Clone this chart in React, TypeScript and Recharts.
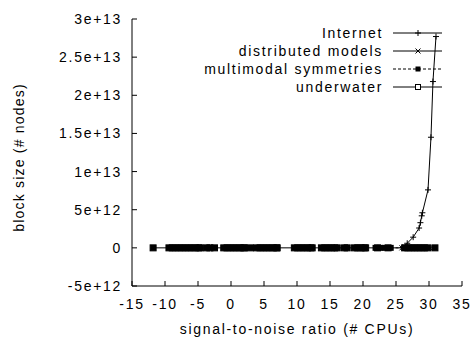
import React from 'react';
import { LineChart, Line, XAxis, YAxis } from 'recharts';

const xTicks = [-15, -10, -5, 0, 5, 10, 15, 20, 25, 30, 35];
const yTicks = [-5e12, 0, 5e12, 1e13, 1.5e13, 2e13, 2.5e13, 3e13];
const yTickLabels = ['-5e+12', '0', '5e+12', '1e+13', '1.5e+13', '2e+13', '2.5e+13', '3e+13'];

const seriesNames = ['Internet', 'distributed models', 'multimodal symmetries', 'underwater'];

const internetX = [26, 26.7, 27.6, 28.5, 28.7, 28.9, 29.0, 29.85, 30.3, 30.6, 31.06];
const internetY = [0.05e12, 0.6e12, 1.4e12, 2.6e12, 3.3e12, 4.2e12, 4.6e12, 7.6e12, 1.45e13, 2.18e13, 2.77e13];

const distributedX = [25.9, 26.4, 26.9, 27.4, 28.2, 28.8, 29.4, 30.1];
const distributedY = [0, 0, 0, 0, 0, 0, 0, 0];

const multimodalX = [21.9, 22.6, 23.4, 24.2, 26.4];
const multimodalY = [0, 0, 0, 0, 0];

const underwaterX = [
  -11.8, -9.4, -8.9, -8.4, -7.9, -7.4, -6.9, -6.4, -5.9, -5.4, -4.9, -4.7,
  -3.7, -3.2, -2.5, -1.1, -0.6, -0.1, 0.4, 0.9, 1.4, 1.9, 2.0, 2.95,
  3.9, 4.4, 4.9, 5.4, 5.9, 6.4, 6.9, 7.0, 9.6, 10.1, 10.6, 11.1, 11.6, 12.1, 12.3,
  13.7, 14.2, 14.7, 15.2, 15.7, 16.1, 17.2, 17.6, 18.7, 19.2, 19.7, 20.2, 20.4,
  22.2, 23.8, 26.3, 26.8, 27.3, 27.8, 28.3, 28.8, 29.3, 29.8, 30.9,
];

const internetData = internetX.map((x, i) => ({ x, y: internetY[i] }));
const distributedData = distributedX.map((x, i) => ({ x, y: distributedY[i] }));
const multimodalData = multimodalX.map((x, i) => ({ x, y: multimodalY[i] }));
const underwaterData = underwaterX.map((x) => ({ x, y: 0 }));

const FONT = '"Liberation Sans", Arial, sans-serif';
const FS = 14;
const LS = 1.7;

const PlusDot = (p: any) => {
  const { cx, cy, key } = p;
  if (cx == null || cy == null) return <g key={key} />;
  return (
    <g key={key}>
      <line x1={cx - 3} y1={cy} x2={cx + 3} y2={cy} stroke="#000" strokeWidth={1} />
      <line x1={cx} y1={cy - 3} x2={cx} y2={cy + 3} stroke="#000" strokeWidth={1} />
    </g>
  );
};

const CrossDot = (p: any) => {
  const { cx, cy, key } = p;
  if (cx == null || cy == null) return <g key={key} />;
  return (
    <g key={key}>
      <line x1={cx - 2.5} y1={cy - 2.5} x2={cx + 2.5} y2={cy + 2.5} stroke="#000" strokeWidth={1} />
      <line x1={cx - 2.5} y1={cy + 2.5} x2={cx + 2.5} y2={cy - 2.5} stroke="#000" strokeWidth={1} />
    </g>
  );
};

const StarDot = (p: any) => {
  const { cx, cy, key } = p;
  if (cx == null || cy == null) return <g key={key} />;
  return <rect key={key} x={cx - 3} y={cy - 3} width={6} height={6} fill="#000" />;
};

const SquareDot = (p: any) => {
  const { cx, cy, key } = p;
  if (cx == null || cy == null) return <g key={key} />;
  return <rect key={key} x={cx - 3} y={cy - 3} width={6} height={6} fill="#000" stroke="#000" strokeWidth={1} />;
};

const BottomTick = (p: any) => {
  const { x, y, payload } = p;
  return (
    <g>
      <line x1={x} y1={y} x2={x} y2={y - 5} stroke="#000" />
      <text x={x} y={y + 23} textAnchor="middle" fontFamily={FONT} fontSize={FS} letterSpacing={LS} fill="#000">
        {payload.value}
      </text>
    </g>
  );
};

const TopTick = (p: any) => {
  const { x, y } = p;
  return <line x1={x} y1={y} x2={x} y2={y + 5} stroke="#000" />;
};

const LeftTick = (p: any) => {
  const { x, y, payload } = p;
  const idx = yTicks.indexOf(payload.value);
  return (
    <g>
      <line x1={x} y1={y} x2={x + 5} y2={y} stroke="#000" />
      <text x={x - 10} y={y + 5} textAnchor="end" fontFamily={FONT} fontSize={FS} letterSpacing={LS} fill="#000">
        {idx >= 0 ? yTickLabels[idx] : ''}
      </text>
    </g>
  );
};

const RightTick = (p: any) => {
  const { x, y } = p;
  return <line x1={x} y1={y} x2={x - 5} y2={y} stroke="#000" />;
};

const legendMarkers = [
  (cx: number, cy: number) => (
    <g>
      <line x1={cx - 3} y1={cy} x2={cx + 3} y2={cy} stroke="#000" />
      <line x1={cx} y1={cy - 3} x2={cx} y2={cy + 3} stroke="#000" />
    </g>
  ),
  (cx: number, cy: number) => (
    <g>
      <line x1={cx - 2.5} y1={cy - 2.5} x2={cx + 2.5} y2={cy + 2.5} stroke="#000" />
      <line x1={cx - 2.5} y1={cy + 2.5} x2={cx + 2.5} y2={cy - 2.5} stroke="#000" />
    </g>
  ),
  (cx: number, cy: number) => <rect x={cx - 2.5} y={cy - 2.5} width={5} height={5} fill="#000" />,
  (cx: number, cy: number) => <rect x={cx - 2.5} y={cy - 2.5} width={5} height={5} fill="#fff" stroke="#000" />,
];

const KeyBox = () => (
  <g>
    {seriesNames.map((name, i) => {
      const cy = 33 + i * 18;
      return (
        <g key={name}>
          <text x={383} y={cy + 5} textAnchor="end" fontFamily={FONT} fontSize={FS} letterSpacing={LS} fill="#000">
            {name}
          </text>
          <line x1={393} y1={cy} x2={442} y2={cy} stroke="#000" strokeDasharray={i === 2 ? '3 2' : undefined} />
          {legendMarkers[i](418, cy)}
        </g>
      );
    })}
  </g>
);

export default function App() {
  return (
    <div style={{ position: 'absolute', left: 0, top: 0, background: '#fff' }}>
      <LineChart width={473} height={339} margin={{ top: 19, right: 11, bottom: 23, left: 12 }}>
        <XAxis
          xAxisId="b"
          type="number"
          dataKey="x"
          domain={[-15, 35]}
          ticks={xTicks}
          allowDataOverflow
          height={30}
          tickSize={0}
          tickMargin={0}
          tickLine={false}
          tick={BottomTick}
          axisLine={{ stroke: '#000' }}
          label={{
            content: (props: any) => {
              const vb = props.viewBox;
              return (
                <text x={vb.x + vb.width / 2} y={vb.y + 48} textAnchor="middle" fontFamily={FONT} fontSize={FS} letterSpacing={LS} fill="#000">
                  signal-to-noise ratio (# CPUs)
                </text>
              );
            },
          }}
        />
        <XAxis
          xAxisId="t"
          orientation="top"
          type="number"
          dataKey="x"
          domain={[-15, 35]}
          ticks={xTicks}
          allowDataOverflow
          height={0}
          tickSize={0}
          tickMargin={0}
          tickLine={false}
          tick={TopTick}
          axisLine={{ stroke: '#000' }}
        />
        <YAxis
          yAxisId="l"
          type="number"
          domain={[-5e12, 3e13]}
          ticks={yTicks}
          allowDataOverflow
          width={120}
          tickSize={0}
          tickMargin={0}
          tickLine={false}
          tick={LeftTick}
          axisLine={{ stroke: '#000' }}
          label={{
            content: (props: any) => {
              const vb = props.viewBox;
              const cx = vb.x + 7;
              const cy = vb.y + vb.height / 2 + 5;
              return (
                <text x={cx} y={cy} transform={`rotate(-90 ${cx} ${cy})`} textAnchor="middle" dominantBaseline="central" fontFamily={FONT} fontSize={FS} letterSpacing={1.2} fill="#000">
                  block size (# nodes)
                </text>
              );
            },
          }}
        />
        <YAxis
          yAxisId="r"
          orientation="right"
          type="number"
          domain={[-5e12, 3e13]}
          ticks={yTicks}
          allowDataOverflow
          width={0}
          tickSize={0}
          tickMargin={0}
          tickLine={false}
          tick={RightTick}
          axisLine={{ stroke: '#000' }}
        />
        <KeyBox />
        <Line xAxisId="b" yAxisId="l" data={underwaterData} dataKey="y" name="underwater" stroke="#000" strokeWidth={1} dot={SquareDot} isAnimationActive={false} />
        <Line xAxisId="b" yAxisId="l" data={multimodalData} dataKey="y" name="multimodal symmetries" stroke="#000" strokeWidth={1} strokeDasharray="3 2" dot={StarDot} isAnimationActive={false} />
        <Line xAxisId="b" yAxisId="l" data={distributedData} dataKey="y" name="distributed models" stroke="#000" strokeWidth={1} dot={CrossDot} isAnimationActive={false} />
        <Line xAxisId="b" yAxisId="l" data={internetData} dataKey="y" name="Internet" stroke="#000" strokeWidth={1} dot={PlusDot} isAnimationActive={false} />
      </LineChart>
    </div>
  );
}
